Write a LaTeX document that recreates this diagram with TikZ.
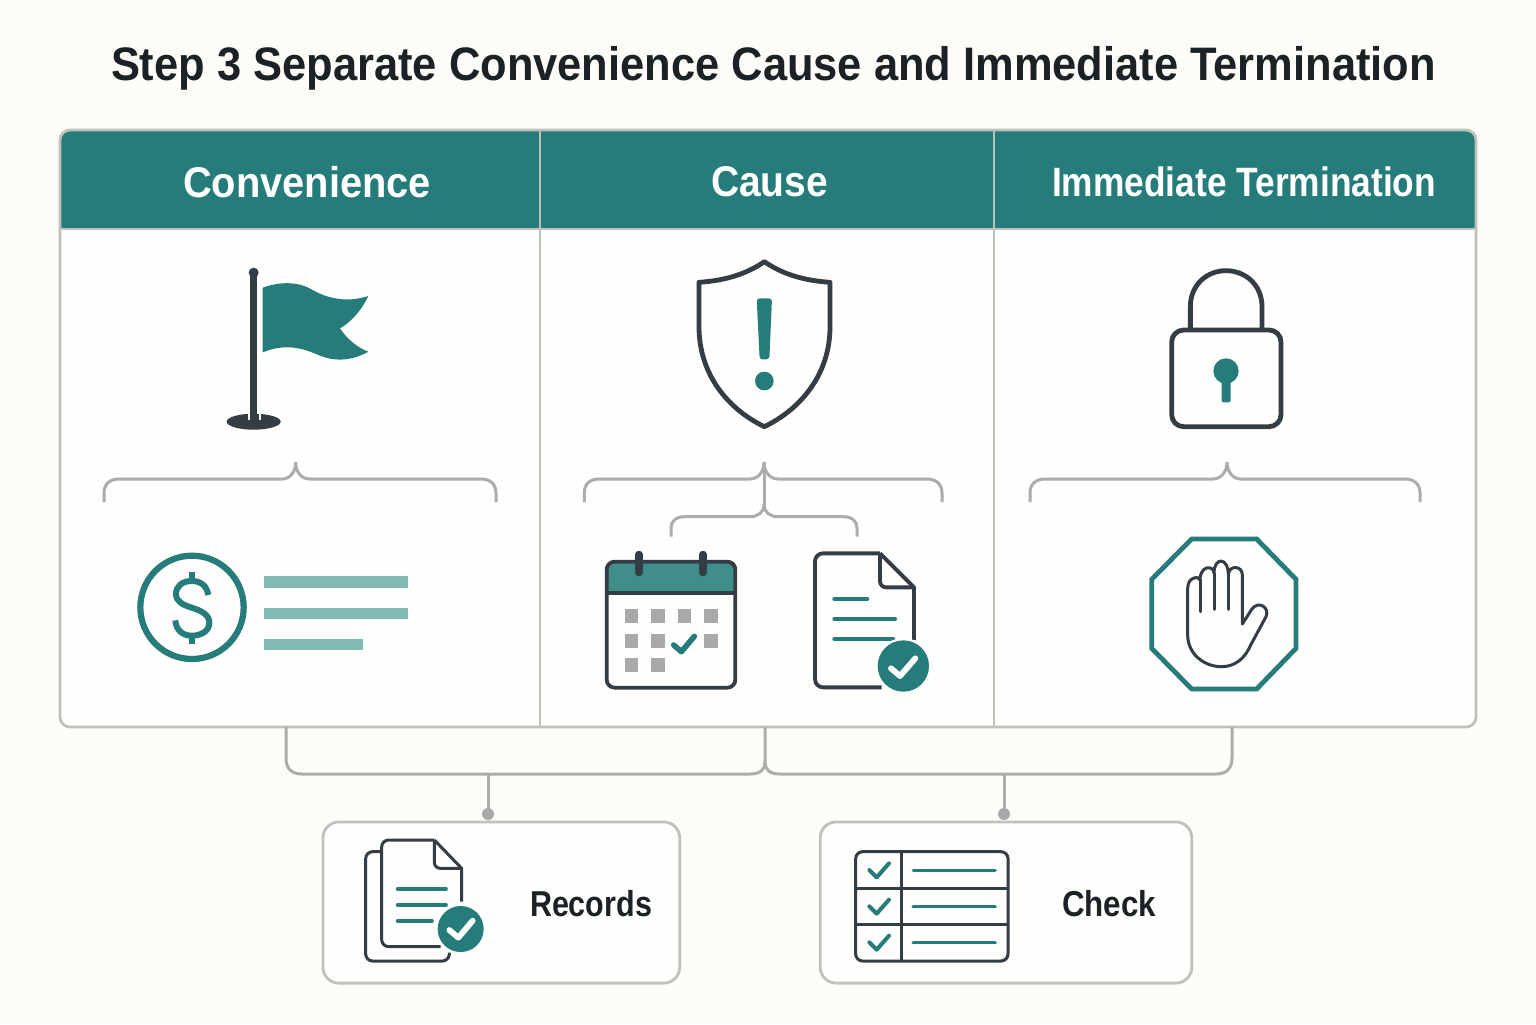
\documentclass[tikz,border=0pt]{standalone}
\usepackage{fontspec}
\setmainfont{Liberation Sans}
\definecolor{bgc}{HTML}{FDFCF8}
\definecolor{panelc}{HTML}{FEFEFC}
\definecolor{tealc}{HTML}{267B7B}
\definecolor{tealsoft}{HTML}{7FBBB3}
\definecolor{tealcal}{HTML}{3F8E8A}
\definecolor{darkc}{HTML}{343C44}
\definecolor{inkc}{HTML}{1C2126}
\definecolor{framec}{HTML}{BFC1BD}
\definecolor{linec}{HTML}{ABADAA}
\definecolor{cellc}{HTML}{A9A9A9}
\newsavebox{\fitbox}
% \fitx{target width in pt}{font size in pt}{text}
\newcommand{\fitx}[3]{%
  \sbox{\fitbox}{\fontsize{#2pt}{#2pt}\selectfont\bfseries #3}%
  \pgfmathsetmacro{\fitr}{#1/\the\wd\fitbox}%
  \scalebox{\fitr}[1]{\usebox{\fitbox}}}
\tikzset{
  zoomat/.style={shift={(#1)},x=.166667pt,y=-.166667pt},
  frame/.style={draw=framec,line width=1.4pt},
  conn/.style={draw=linec,line width=1.5pt},
  iconbig/.style={draw=darkc,line width=2.4pt,line join=round},
  iconmid/.style={draw=darkc,line width=1.9pt,line join=round},
  iconthin/.style={draw=darkc,line width=1.5pt,line join=round},
  tealline/.style={draw=tealc,line width=2pt,line cap=round},
  okmark/.style={line width=2.9pt,line cap=round,line join=round},
  softbar/.style={fill=tealsoft},
  cell/.style={fill=cellc},
  boxnode/.style={frame,fill=panelc,rounded corners=8pt,inner sep=0pt},
  headtext/.style={text=white,inner sep=0pt},
  inktext/.style={text=inkc,inner sep=0pt}
}
\begin{document}
\begin{tikzpicture}[x=.5pt,y=-.5pt]
\useasboundingbox (0,0) rectangle (1536,1024);
\fill[bgc] (0,0) rectangle (1536,1024);

\node[inktext] (title) at (773.5,68.5) {\fitx{662.5}{23.5}{Step 3 Separate Convenience Cause and Immediate Termination}};

% table
\fill[panelc,rounded corners=5pt] (60,130) rectangle (1476,727);
\begin{scope}
  \clip[rounded corners=5pt] (60,130) rectangle (1476,727);
  \fill[tealc] (60,130) rectangle (1476,229);
\end{scope}
\draw[frame,rounded corners=5pt] (60,130) rectangle (1476,727);
\draw[frame] (60,229) -- (1476,229);
\draw[frame] (540,130) -- (540,727);
\draw[frame] (994,130) -- (994,727);

\node[headtext] (hconv) at (307,182) {\fitx{124}{21.5}{Convenience}};
\node[headtext] (hcause) at (769.5,182) {\fitx{58.5}{21.5}{Cause}};
\node[headtext] (himm) at (1244,182) {\fitx{192}{20.5}{Immediate Termination}};

% flag
\begin{scope}[zoomat={60,120}]
  \fill[tealc] (608,503) .. controls (650,488) and (700,482) .. (745,503)
     .. controls (790,530) and (850,552) .. (925,528)
     .. controls (905,570) and (875,605) .. (840,625)
     .. controls (860,655) and (890,682) .. (925,695)
     .. controls (880,720) and (830,728) .. (775,705)
     .. controls (720,680) and (670,672) .. (608,697) -- cycle;
  \fill[darkc] (581,905) ellipse [x radius=81,y radius=24];
  \draw[panelc,line width=1pt] (566,882) -- (566,900) (601,882) -- (601,900);
  \fill[darkc] (571,458) rectangle (591,900);
  \fill[darkc] (581,458) circle [radius=15];
\end{scope}

% dollar and bars
\begin{scope}[zoomat={90,450}]
  \draw[tealc,line width=3.1pt] (306,472) circle [radius=155];
  \draw[tealc,line width=3pt] (355,435) .. controls (350,405) and (330,393) .. (305,393)
     .. controls (275,393) and (258,410) .. (258,432)
     .. controls (258,455) and (280,465) .. (305,473)
     .. controls (335,482) and (358,495) .. (358,518)
     .. controls (358,542) and (335,557) .. (305,557)
     .. controls (278,557) and (258,540) .. (256,511);
  \draw[tealc,line width=3pt] (306,367) -- (306,393) (306,557) -- (306,581);
  \fill[softbar] (522,378) rectangle (955,413);
  \fill[softbar] (522,473) rectangle (955,508);
  \fill[softbar] (522,566) rectangle (819,601);
\end{scope}

% brace convenience
\coordinate (b1l) at (104,502); \coordinate (b1r) at (496,502); \coordinate (b1t) at (295.7,462);
\draw[conn] (b1l) -- (104,493) .. controls (104,484) and (110,479) .. (119,479) -- (282,479)
   .. controls (290,479) and (295.7,472) .. (b1t)
   .. controls (295.7,472) and (301,479) .. (310,479) -- (481,479)
   .. controls (490,479) and (496,484) .. (496,493) -- (b1r);

% shield
\begin{scope}[zoomat={660,240}]
  \draw[iconbig] (313,65) .. controls (255,105) and (190,122) .. (117,127)
    -- (117,260) .. controls (117,400) and (200,505) .. (313,560)
    .. controls (426,505) and (510,400) .. (510,260)
    -- (510,127) .. controls (437,122) and (371,105) .. (313,65) -- cycle;
  \fill[tealc,rounded corners=1.5pt] (290,175) -- (336,175) -- (328,358) -- (299,358) -- cycle;
  \fill[tealc] (313,423) circle [radius=28];
\end{scope}

% brace cause
\coordinate (b2l) at (584.3,502); \coordinate (b2r) at (942,502); \coordinate (b2t) at (764,462);
\coordinate (b3l) at (671,536.7); \coordinate (b3r) at (857,536.7); \coordinate (b3t) at (764,505);
\draw[conn] (b2l) -- (584.3,493) .. controls (584.3,484) and (590,479) .. (599,479) -- (750,479)
   .. controls (758,479) and (764,472) .. (b2t)
   .. controls (764,472) and (770,479) .. (778,479) -- (927,479)
   .. controls (936,479) and (942,484) .. (942,493) -- (b2r);
\draw[conn] (b2t) -- (b3t);
\draw[conn] (b3l) -- (671,528) .. controls (671,521) and (676,516.7) .. (685,516.7) -- (750,516.7)
   .. controls (758,516.7) and (764,512) .. (b3t)
   .. controls (764,512) and (770,516.7) .. (778,516.7) -- (843,516.7)
   .. controls (852,516.7) and (857,521) .. (857,528) -- (b3r);

% calendar
\begin{scope}[zoomat={570,450}]
  \fill[panelc,rounded corners=4pt] (110,335) rectangle (496,713);
  \fill[tealcal] (110,428) [rounded corners=4pt] -- (110,335) -- (496,335) [sharp corners] -- (496,428) -- cycle;
  \draw[iconmid,rounded corners=4pt] (110,335) rectangle (496,713);
  \draw[iconmid] (110,428) -- (496,428);
  \draw[darkc,line width=3.6pt,line cap=round] (207,313) -- (207,368) (399,313) -- (399,368);
  \foreach \cx/\cy in {164/478,243/478,323/478,403/478,164/552,243/552,403/552,164/625,243/625}
    \fill[cell] (\cx,\cy) rectangle ++(41,41);
  \draw[tealc,line width=2.8pt,line join=round,line cap=round] (311,585) -- (334,605) -- (373,559);
  % document
  \draw[iconmid,rounded corners=4pt] (930,310) -- (735,310) -- (735,712) -- (935,712);
  \draw[iconmid] (930,310) -- (1032,412) -- (1032,570);
  \draw[iconmid,rounded corners=3pt] (930,310) -- (930,412) -- (1032,412);
  \draw[tealline] (793,447) -- (892,447) (793,506) -- (975,506) (793,567) -- (970,567);
  \fill[panelc] (1000,648) circle [radius=84];
  \fill[tealc] (1000,648) circle [radius=77];
  \draw[white,okmark] (963,655) -- (990,678) -- (1036,625);
\end{scope}

% lock
\begin{scope}[zoomat={1130,250}]
  \draw[iconbig] (181,240) -- (181,170) .. controls (181,105) and (230,62) .. (288,62)
     .. controls (346,62) and (396,105) .. (396,170) -- (396,240);
  \draw[iconbig,rounded corners=6pt] (125,240) rectangle (453,530);
  \fill[tealc] (288,363) circle [radius=38];
  \fill[tealc,rounded corners=1pt] (275,380) rectangle (302,457);
\end{scope}

% brace immediate
\coordinate (b4l) at (1030,502); \coordinate (b4r) at (1420,502); \coordinate (b4t) at (1227,462);
\draw[conn] (b4l) -- (1030,493) .. controls (1030,484) and (1036,479) .. (1045,479) -- (1213,479)
   .. controls (1221,479) and (1227,472) .. (b4t)
   .. controls (1227,472) and (1233,479) .. (1241,479) -- (1405,479)
   .. controls (1414,479) and (1420,484) .. (1420,493) -- (b4r);

% octagon and hand
\begin{scope}[zoomat={1130,520}]
  \draw[tealc,line width=2.4pt] (185,57) -- (380,57) -- (498,178) -- (498,385) -- (380,507) -- (185,507) -- (65,385) -- (65,178) -- cycle;
  \draw[iconthin,line cap=round]
    (337,312) -- (337,165) .. controls (337,135) and (295,135) .. (295,165)
    .. controls (295,110) and (252,110) .. (252,160)
    .. controls (252,135) and (210,135) .. (210,180)
    .. controls (210,168) and (173,168) .. (173,205)
    -- (173,345) .. controls (173,400) and (220,440) .. (275,440)
    .. controls (315,440) and (345,415) .. (362,375)
    -- (408,290) .. controls (420,262) and (385,240) .. (365,268) -- cycle;
  \draw[iconthin,line cap=round] (210,180) -- (210,275) (252,160) -- (252,268) (295,165) -- (295,268);
\end{scope}

% bottom connectors
\coordinate (tl) at (286,727); \coordinate (tm) at (765,727); \coordinate (tr) at (1232,727);
\coordinate (jn) at (765,762);
\coordinate (d1t) at (488,774); \coordinate (d1) at (488,814);
\coordinate (d2t) at (1004,774); \coordinate (d2) at (1004,814);
\draw[conn] (tl) -- (286,758) .. controls (286,769) and (292,774) .. (302,774) -- (750,774)
   .. controls (760,774) and (765,770) .. (jn) -- (tm);
\draw[conn] (jn) .. controls (765,770) and (770,774) .. (780,774) -- (1216,774)
   .. controls (1226,774) and (1232,769) .. (1232,758) -- (tr);
\draw[conn] (d1t) -- (d1);
\draw[conn] (d2t) -- (d2);
\fill[cellc] (d1) circle [radius=6];
\fill[cellc] (d2) circle [radius=6];

% lower boxes
\node[boxnode,minimum width=178.4pt,minimum height=80.6pt] (recbox) at (501.3,902.5) {};
\node[boxnode,minimum width=185.8pt,minimum height=80.6pt] (chkbox) at (1006,902.5) {};
\node[inktext] (rec) at (591,904) {\fitx{61}{18}{Records}};
\node[inktext] (chk) at (1109,904) {\fitx{47}{18}{Check}};

% records icon
\begin{scope}[zoomat={320,770}]
  \draw[iconthin,rounded corners=3.5pt] (185,245) -- (137,245) -- (137,573) -- (388,573) -- (388,548);
  \draw[iconthin,rounded corners=3.5pt] (343,210) -- (185,210) -- (185,530) -- (362,530);
  \draw[iconthin] (343,210) -- (425,295) -- (425,395);
  \draw[iconthin,rounded corners=3pt] (343,210) -- (343,295) -- (425,295);
  \draw[tealc,line width=1.8pt,line cap=round] (233,357) -- (378,357) (233,405) -- (378,405) (233,453) -- (336,453);
  \fill[panelc] (422,477) circle [radius=75];
  \fill[tealc] (422,477) circle [radius=69];
  \draw[white,okmark] (388,480) -- (415,503) -- (458,452);
\end{scope}

% check icon
\begin{scope}[zoomat={810,770}]
  \draw[iconthin,rounded corners=3.5pt] (137,245) rectangle (594,573);
  \draw[iconthin] (274,245) -- (274,573) (137,354) -- (594,354) (137,463) -- (594,463);
  \foreach \dy in {0,109,217} {
    \draw[tealc,line width=1.8pt,line cap=round] (310,301+\dy) -- (555,301+\dy);
    \draw[tealc,line width=2pt,line cap=round,line join=round] (178,300+\dy) -- (200,322+\dy) -- (237,280+\dy);
  }
\end{scope}
\end{tikzpicture}
\end{document}
